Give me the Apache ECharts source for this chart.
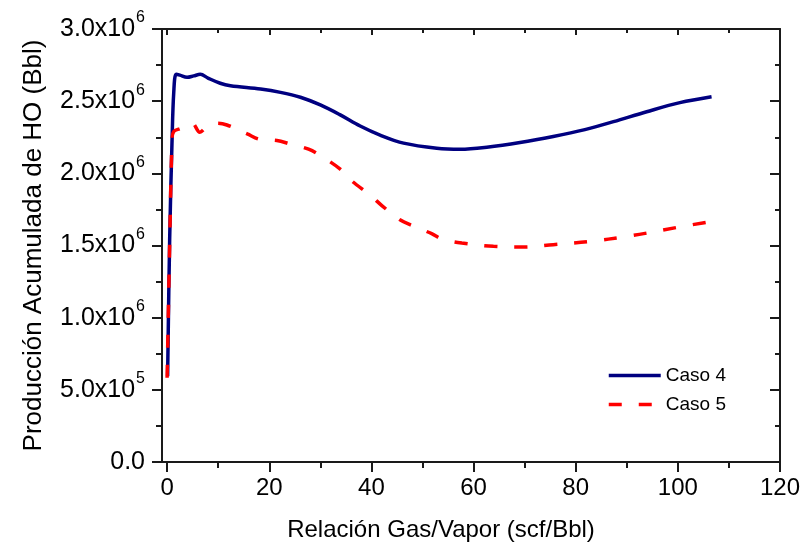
<!DOCTYPE html>
<html>
<head>
<meta charset="utf-8">
<title>Producción Acumulada de HO</title>
<script src="https://cdn.jsdelivr.net/npm/echarts@6.0.0/dist/echarts.min.js"></script>
<style>
  html, body { margin: 0; padding: 0; background: #fff; }
  #main { width: 804px; height: 554px; }
</style>
</head>
<body>
<div id="main"></div>
<script>
// datos (x en scf/Bbl, y en 10^6 Bbl)
var caso4X = [0.1, 0.5, 0.97, 1.3, 1.77, 2.5, 3.9, 5.2, 6.5, 8, 10.4, 12.4, 18.3, 22.2, 26.1, 30, 33.9, 37.8, 41.7, 46.3, 52.8, 57.4, 62.6, 69.1, 75.6, 81.8, 87.4, 93.9, 100.4, 106.6];
var caso4Y = [0.595, 1.54, 2.23, 2.56, 2.686, 2.68, 2.665, 2.675, 2.686, 2.66, 2.624, 2.607, 2.584, 2.561, 2.527, 2.474, 2.405, 2.328, 2.265, 2.209, 2.174, 2.167, 2.181, 2.213, 2.255, 2.303, 2.358, 2.427, 2.49, 2.531];

var caso5X = [0.0, 0.5, 0.97, 1.3, 2.6, 4.9, 6.4, 8, 9.8, 11.7, 15.7, 18.1, 21.5, 24, 27.7, 30, 33.9, 35.9, 39.8, 42.1, 45.6, 47.9, 51.8, 53.8, 57.7, 63.9, 69.8, 75.6, 82.8, 90, 93.9, 99.8, 106.6];
var caso5Y = [0.584, 1.5, 2.23, 2.29, 2.31, 2.347, 2.285, 2.33, 2.347, 2.335, 2.273, 2.236, 2.227, 2.204, 2.167, 2.123, 2.029, 1.955, 1.847, 1.775, 1.678, 1.639, 1.582, 1.545, 1.517, 1.494, 1.49, 1.506, 1.528, 1.563, 1.586, 1.625, 1.667];

// etiquetas de los ejes
var xMajorTicks = [0, 20, 40, 60, 80, 100, 120];
var xMinorTicks = [10, 30, 50, 70, 90, 110];
var yTickMant = ['0.0', '5.0x10', '1.0x10', '1.5x10', '2.0x10', '2.5x10', '3.0x10'];
var yTickExp = ['', '5', '6', '6', '6', '6', '6'];

var fontName = 'Liberation Sans';
var axisColor = '#1a1a1a';

function zip(xs, ys) {
  var out = [];
  for (var i = 0; i < xs.length; i++) {
    out.push([xs[i], ys[i]]);
  }
  return out;
}

function lineSt() {
  return { color: axisColor, width: 2 };
}

function xAxisBase(pos) {
  return {
    type: 'value',
    position: pos,
    min: -1,
    max: 120,
    splitLine: { show: false },
    axisLine: { show: false, onZero: false, lineStyle: lineSt() },
    axisLabel: { show: false },
    axisTick: { show: false }
  };
}

// eje inferior principal (ticks mayores + etiquetas + titulo)
var xBottom = xAxisBase('bottom');
xBottom.axisLine.show = true;
xBottom.axisTick = { show: true, customValues: xMajorTicks, length: 10, lineStyle: lineSt() };
xBottom.axisLabel = { show: true, customValues: xMajorTicks, margin: 14, fontSize: 24, color: '#000', fontFamily: fontName };
xBottom.name = 'Relación Gas/Vapor (scf/Bbl)';
xBottom.nameLocation = 'middle';
xBottom.nameGap = 56;
xBottom.nameTextStyle = { fontSize: 24, color: '#000', fontFamily: fontName, padding: [0, 60, 0, 0] };

// ticks menores abajo
var xBottomMinor = xAxisBase('bottom');
xBottomMinor.axisTick = { show: true, customValues: xMinorTicks, length: 6, lineStyle: lineSt() };

// eje superior (espejo, ticks hacia dentro)
var xTop = xAxisBase('top');
xTop.axisLine.show = true;
xTop.axisTick = { show: true, inside: true, customValues: xMajorTicks, length: 6, lineStyle: lineSt() };
var xTopMinor = xAxisBase('top');
xTopMinor.axisTick = { show: true, inside: true, customValues: xMinorTicks, length: 4, lineStyle: lineSt() };

var chart = echarts.init(document.getElementById('main'));
chart.setOption({
  backgroundColor: '#fff',
  animation: false,
  textStyle: { fontFamily: fontName },
  grid: { left: 162, right: 24, top: 29, bottom: 92 },
  legend: {
    orient: 'vertical',
    left: 607,
    top: 366,
    padding: 0,
    itemWidth: 52,
    itemHeight: 14,
    itemGap: 10,
    itemStyle: { opacity: 0 },
    lineStyle: { width: 3.5 },
    textStyle: { fontSize: 19, color: '#000', fontFamily: fontName },
    data: ['Caso 4', 'Caso 5']
  },
  xAxis: [xBottom, xBottomMinor, xTop, xTopMinor],
  yAxis: [
    {
      type: 'value',
      position: 'left',
      min: 0,
      max: 3,
      interval: 0.5,
      splitLine: { show: false },
      axisLine: { show: true, onZero: false, lineStyle: lineSt() },
      axisTick: { show: true, length: 10, lineStyle: lineSt() },
      minorTick: { show: true, splitNumber: 2, length: 6, lineStyle: lineSt() },
      axisLabel: {
        margin: 17,
        formatter: function (value, index) {
          if (!yTickExp[index]) return '{m|' + yTickMant[index] + '}';
          return '{m|' + yTickMant[index] + '}{s|' + yTickExp[index] + '}';
        },
        rich: {
          m: { fontSize: 25, color: '#000', fontFamily: fontName },
          s: { fontSize: 16, color: '#000', fontFamily: fontName, padding: [0, 0, 22, 1] }
        }
      },
      name: 'Producción Acumulada de HO (Bbl)',
      nameLocation: 'middle',
      nameGap: 115,
      nameTextStyle: { fontSize: 26, color: '#000', fontFamily: fontName }
    },
    {
      type: 'value',
      position: 'right',
      min: 0,
      max: 3,
      interval: 0.5,
      splitLine: { show: false },
      axisLine: { show: true, onZero: false, lineStyle: lineSt() },
      axisTick: { show: true, inside: true, length: 10, lineStyle: lineSt() },
      minorTick: { show: true, splitNumber: 2, length: 5, lineStyle: lineSt() },
      axisLabel: { show: false }
    }
  ],
  series: [
    {
      name: 'Caso 4',
      type: 'line',
      xAxisIndex: 0,
      yAxisIndex: 0,
      data: zip(caso4X, caso4Y),
      showSymbol: false,
      symbol: 'none',
      smooth: 0.35,
      lineStyle: { color: '#000080', width: 3.5 },
      itemStyle: { color: '#000080' }
    },
    {
      name: 'Caso 5',
      type: 'line',
      xAxisIndex: 0,
      yAxisIndex: 0,
      data: zip(caso5X, caso5Y),
      showSymbol: false,
      symbol: 'none',
      smooth: 0.35,
      lineStyle: { color: '#ff0000', width: 3.5, type: [13, 17] },
      itemStyle: { color: '#ff0000' }
    }
  ]
});
</script>
</body>
</html>
